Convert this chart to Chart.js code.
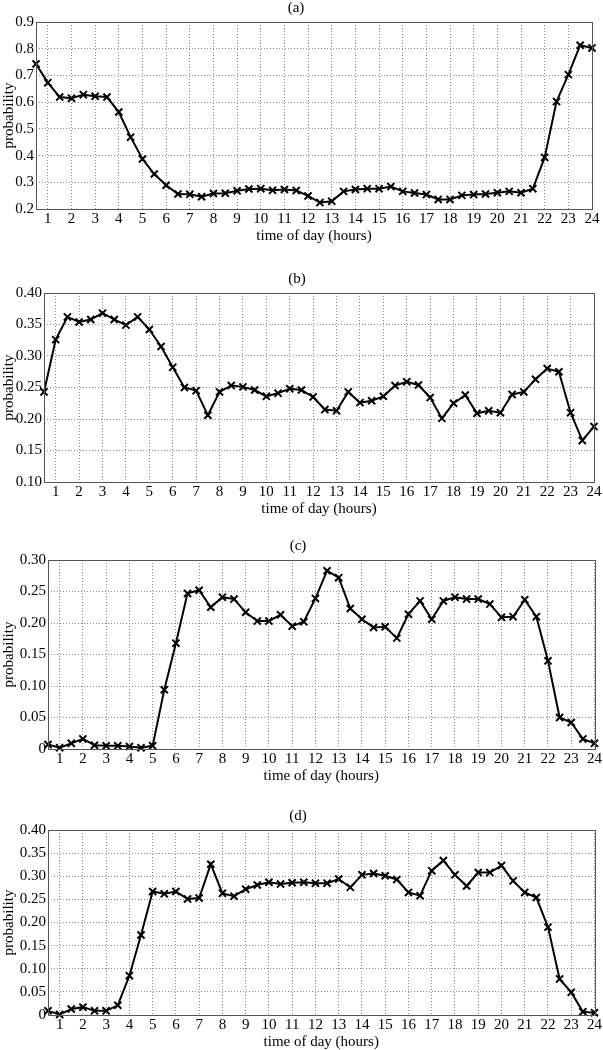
<!DOCTYPE html>
<html>
<head>
<meta charset="utf-8">
<script src="https://cdn.jsdelivr.net/npm/chart.js@4"></script>
<style>
  body { margin: 0; background: #fff; }
  #wrap { position: relative; width: 603px; height: 1050px; }
  canvas { position: absolute; left: 0; }
</style>
</head>
<body>
<div id="wrap">
  <canvas id="chartA" width="603" height="245" style="top:0px"></canvas>
  <canvas id="chartB" width="603" height="247" style="top:271px"></canvas>
  <canvas id="chartC" width="603" height="247" style="top:538px"></canvas>
  <canvas id="chartD" width="603" height="243" style="top:808px"></canvas>
</div>
<script>
// half-hour sample points
const hours = [0.5, 1, 1.5, 2, 2.5, 3, 3.5, 4, 4.5, 5, 5.5, 6, 6.5, 7, 7.5, 8,
    8.5, 9, 9.5, 10, 10.5, 11, 11.5, 12, 12.5, 13, 13.5, 14, 14.5, 15, 15.5, 16,
    16.5, 17, 17.5, 18, 18.5, 19, 19.5, 20, 20.5, 21, 21.5, 22, 22.5, 23, 23.5, 24];
const hourTicks = [1, 2, 3, 4, 5, 6, 7, 8, 9, 10, 11, 12, 13, 14, 15, 16, 17,
    18, 19, 20, 21, 22, 23, 24];

const probA = [0.743, 0.673, 0.619, 0.615, 0.628, 0.622, 0.619, 0.563, 0.469, 0.387,
    0.331, 0.289, 0.256, 0.255, 0.246, 0.258, 0.259, 0.268, 0.275, 0.276, 0.270, 0.273,
    0.269, 0.249, 0.224, 0.229, 0.266, 0.273, 0.276, 0.276, 0.284, 0.266, 0.260, 0.254,
    0.236, 0.236, 0.251, 0.254, 0.256, 0.261, 0.266, 0.261, 0.276, 0.393, 0.602, 0.703,
    0.813, 0.803];
const probB = [0.243, 0.326, 0.362, 0.354, 0.358, 0.368, 0.358, 0.349, 0.362, 0.342,
    0.315, 0.282, 0.250, 0.245, 0.206, 0.243, 0.253, 0.251, 0.246, 0.236, 0.241, 0.248,
    0.246, 0.235, 0.215, 0.213, 0.243, 0.226, 0.229, 0.236, 0.253, 0.259, 0.254, 0.234,
    0.201, 0.225, 0.238, 0.209, 0.213, 0.210, 0.239, 0.243, 0.263, 0.280, 0.275, 0.210,
    0.166, 0.188];
const probC = [0.007, 0.002, 0.009, 0.016, 0.006, 0.005, 0.005, 0.004, 0.002, 0.005,
    0.094, 0.168, 0.247, 0.252, 0.225, 0.241, 0.238, 0.217, 0.203, 0.203, 0.213, 0.195,
    0.202, 0.239, 0.283, 0.272, 0.223, 0.206, 0.193, 0.194, 0.176, 0.214, 0.235, 0.206,
    0.235, 0.241, 0.238, 0.238, 0.230, 0.209, 0.210, 0.237, 0.210, 0.140, 0.050, 0.042,
    0.016, 0.009];
const probD = [0.009, 0.001, 0.013, 0.017, 0.009, 0.009, 0.021, 0.085, 0.173, 0.267,
    0.262, 0.267, 0.251, 0.253, 0.326, 0.263, 0.257, 0.272, 0.281, 0.287, 0.283, 0.286,
    0.287, 0.285, 0.285, 0.294, 0.276, 0.303, 0.306, 0.301, 0.293, 0.265, 0.258, 0.312,
    0.334, 0.303, 0.279, 0.308, 0.308, 0.323, 0.290, 0.265, 0.254, 0.190, 0.078, 0.049,
    0.007, 0.005];

const serif = "'Liberation Serif', 'DejaVu Serif', serif";

// thin box around the plot area
const frame = {
    id: 'frame',
    afterDraw(chart) {
        const a = chart.chartArea;
        const ctx = chart.ctx;
        ctx.save();
        ctx.strokeStyle = '#555';
        ctx.lineWidth = 1;
        ctx.strokeRect(Math.round(a.left) + 0.5, Math.round(a.top) + 0.5,
            Math.round(a.right - a.left), Math.round(a.bottom - a.top));
        ctx.restore();
    }
};

function makePanel(id, label, values, yMin, yMax, yStep, dec, yWidth, rightPad) {
    const points = [];
    for (let i = 0; i < hours.length; i++) {
        points.push({x: hours[i], y: values[i]});
    }
    new Chart(document.getElementById(id), {
        type: 'line',
        data: {datasets: [{
            data: points,
            borderColor: '#000',
            backgroundColor: '#000',
            borderWidth: 2,
            pointStyle: 'crossRot',
            pointRadius: 5,
            pointBorderWidth: 2,
            pointBorderColor: '#000',
            tension: 0,
            clip: false
        }]},
        options: {
            responsive: false,
            animation: false,
            layout: {padding: {left: 0, right: rightPad, top: 0, bottom: 0}},
            plugins: {
                legend: {display: false},
                tooltip: {enabled: false},
                title: {
                    display: true,
                    text: label,
                    color: '#000',
                    font: {family: serif, size: 15, weight: 'normal', lineHeight: 1.1},
                    padding: {top: 0, bottom: 5.5}
                }
            },
            scales: {
                x: {
                    type: 'linear',
                    min: 0.5,
                    max: 24,
                    afterBuildTicks: (s) => { s.ticks = hourTicks.map(v => ({value: v})); },
                    afterFit: (s) => { s.height = 36; },
                    ticks: {
                        color: '#000',
                        font: {family: serif, size: 15},
                        padding: 1,
                        maxRotation: 0,
                        autoSkip: false
                    },
                    grid: {color: '#8c8c8c', lineWidth: 1, drawTicks: false},
                    border: {display: false, dash: [1, 2]},
                    title: {
                        display: true,
                        text: 'time of day (hours)',
                        color: '#000',
                        font: {family: serif, size: 15},
                        padding: {top: 0, bottom: 0}
                    }
                },
                y: {
                    min: yMin,
                    max: yMax,
                    afterFit: (s) => { s.width = yWidth; },
                    ticks: {
                        stepSize: yStep,
                        color: '#000',
                        font: {family: serif, size: 15},
                        padding: 2,
                        callback: (v) => Math.abs(v) < 1e-9 ? '0' : v.toFixed(dec)
                    },
                    grid: {color: '#8c8c8c', lineWidth: 1, drawTicks: false},
                    border: {display: false, dash: [1, 2]},
                    title: {
                        display: true,
                        text: 'probability',
                        color: '#000',
                        font: {family: serif, size: 15},
                        padding: {top: 0, bottom: 0}
                    }
                }
            }
        },
        plugins: [frame]
    });
}

makePanel('chartA', '(a)', probA, 0.2, 0.9, 0.1, 1, 36, 11);
makePanel('chartB', '(b)', probB, 0.1, 0.4, 0.05, 2, 44, 9);
makePanel('chartC', '(c)', probC, 0, 0.3, 0.05, 2, 48, 7);
makePanel('chartD', '(d)', probD, 0, 0.4, 0.05, 2, 48, 7);
</script>
</body>
</html>
